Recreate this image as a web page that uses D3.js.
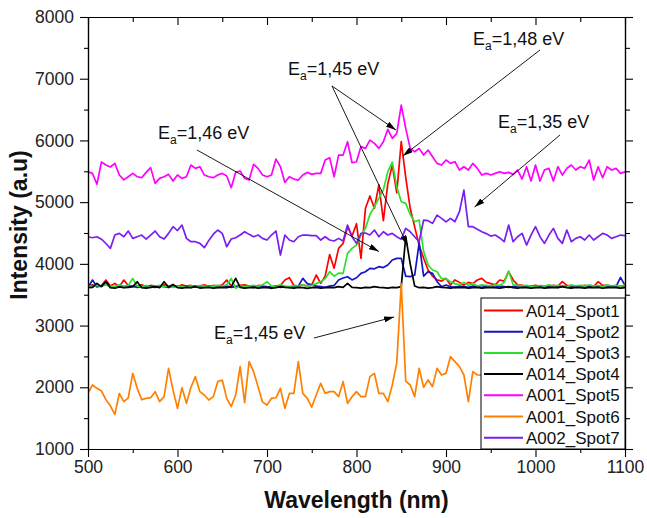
<!DOCTYPE html>
<html>
<head>
<meta charset="utf-8">
<script src="https://cdn.jsdelivr.net/npm/d3@7"></script>
<style>
  html, body { margin: 0; padding: 0; background: #fff; }
  svg { display: block; font-family: "Liberation Sans", Arial, sans-serif; }
</style>
</head>
<body>
<svg id="chart" width="647" height="518"></svg>
<script>
// Wavelength grid (nm), sampled every 5 nm
const wavelengths = d3.range(500, 1101, 5);

// Intensity (a.u.) per spot, one value per wavelength
const spot1 = [
  3640, 3660, 3630, 3650, 3738, 3640, 3684, 3630, 3738, 3650,
  3630, 3640, 3660, 3630, 3650, 3640, 3630, 3660, 3640, 3650,
  3630, 3660, 3640, 3650, 3630, 3640, 3660, 3630, 3650, 3640,
  3660, 3738, 3640, 3630, 3650, 3660, 3640, 3630, 3650, 3640,
  3630, 3603, 3640, 3650, 3738, 3776, 3650, 3640, 3660, 3640,
  3660, 3819, 3684, 3800, 4150, 3930, 4250, 4330, 4600, 4450,
  4650, 4090, 4900, 5100, 4900, 5280, 4700, 5300, 5600, 5150,
  5980, 5400, 4900, 4600, 4300, 4090, 3900, 3800, 3740, 3720,
  3765, 3657, 3740, 3700, 3657, 3700, 3680, 3738, 3765, 3700,
  3680, 3660, 3738, 3720, 3873, 3738, 3660, 3650, 3640, 3640,
  3650, 3640, 3630, 3640, 3650, 3640, 3711, 3650, 3640, 3630,
  3640, 3650, 3640, 3630, 3711, 3650, 3650, 3640, 3630, 3640,
  3640
];
const spot2 = [
  3620, 3738, 3630, 3640, 3711, 3620, 3630, 3640, 3620, 3630,
  3640, 3620, 3630, 3640, 3630, 3620, 3640, 3630, 3620, 3630,
  3640, 3620, 3630, 3620, 3640, 3630, 3620, 3640, 3630, 3620,
  3630, 3640, 3620, 3630, 3640, 3620, 3630, 3620, 3640, 3630,
  3620, 3630, 3640, 3620, 3630, 3620, 3630, 3640, 3765, 3680,
  3660, 3640, 3630, 3620, 3640, 3650, 3738, 3770, 3792, 3740,
  3775, 3846, 3873, 3927, 3920, 3954, 3940, 3981, 4062, 4089,
  4089, 3800, 3792, 3819, 4340, 3800, 3873, 3846, 3711, 3630,
  3657, 3630, 3620, 3640, 3630, 3620, 3640, 3630, 3620, 3640,
  3630, 3620, 3640, 3630, 3620, 3630, 3640, 3620, 3630, 3640,
  3620, 3630, 3640, 3620, 3630, 3620, 3640, 3630, 3620, 3630,
  3640, 3620, 3630, 3620, 3640, 3630, 3620, 3640, 3630, 3780,
  3650
];
const spot3 = [
  3640, 3630, 3650, 3640, 3660, 3640, 3630, 3660, 3640, 3650,
  3765, 3640, 3630, 3650, 3620, 3640, 3650, 3630, 3640, 3620,
  3640, 3630, 3620, 3640, 3630, 3650, 3640, 3630, 3640, 3650,
  3640, 3660, 3765, 3603, 3640, 3630, 3640, 3650, 3640, 3660,
  3711, 3640, 3630, 3660, 3640, 3630, 3650, 3640, 3660, 3640,
  3650, 3680, 3711, 3760, 3873, 3800, 3850, 3846, 4170, 4250,
  4305, 4467, 4575, 4800, 4926, 5061, 5200, 5493, 5650, 5250,
  5007, 4980, 4800, 4683, 4710, 4200, 3981, 3900, 3873, 3760,
  3760, 3711, 3680, 3660, 3700, 3650, 3680, 3640, 3660, 3650,
  3640, 3660, 3650, 3700, 3884, 3660, 3650, 3640, 3650, 3640,
  3630, 3650, 3640, 3660, 3640, 3650, 3640, 3630, 3660, 3640,
  3650, 3640, 3660, 3640, 3650, 3630, 3660, 3640, 3650, 3640,
  3650
];
const spot4 = [
  3614, 3620, 3684, 3630, 3711, 3614, 3608, 3625, 3614, 3620,
  3630, 3711, 3614, 3608, 3620, 3630, 3614, 3711, 3620, 3668,
  3614, 3608, 3620, 3614, 3630, 3608, 3614, 3620, 3608, 3614,
  3620, 3614, 3630, 3765, 3620, 3608, 3614, 3620, 3608, 3614,
  3620, 3608, 3614, 3630, 3620, 3614, 3608, 3620, 3614, 3603,
  3614, 3620, 3608, 3614, 3620, 3614, 3630, 3620, 3684, 3620,
  3614, 3608, 3620, 3614, 3630, 3620, 3614, 3608, 3620, 3614,
  3630, 4440, 4000, 3640, 3614, 3620, 3608, 3614, 3630, 3620,
  3614, 3608, 3620, 3614, 3620, 3608, 3614, 3620, 3608, 3614,
  3620, 3614, 3608, 3620, 3630, 3614, 3608, 3620, 3614, 3608,
  3614, 3620, 3608, 3614, 3620, 3614, 3630, 3614, 3608, 3620,
  3614, 3608, 3620, 3614, 3620, 3608, 3614, 3620, 3614, 3608,
  3614
];
const spot5 = [
  5490, 5466, 5290, 5650, 5601, 5570, 5628, 5439, 5360, 5412,
  5466, 5412, 5396, 5482, 5558, 5304, 5385, 5412, 5450, 5342,
  5439, 5385, 5412, 5601, 5547, 5574, 5439, 5412, 5396, 5439,
  5466, 5423, 5234, 5482, 5504, 5385, 5358, 5612, 5547, 5439,
  5412, 5439, 5698, 5574, 5320, 5412, 5374, 5358, 5439, 5482,
  5450, 5466, 5466, 5682, 5720, 5412, 5763, 5763, 5979, 5639,
  5655, 5900, 5871, 6006, 5952, 5871, 5979, 6180, 6033, 6114,
  6573, 6195, 5871, 5817, 5871, 5763, 5844, 5736, 5628, 5601,
  5682, 5628, 5655, 5520, 5574, 5520, 5628, 5547, 5439, 5466,
  5439, 5466, 5493, 5466, 5482, 5450, 5520, 5374, 5574, 5342,
  5601, 5342, 5520, 5547, 5342, 5574, 5439, 5547, 5601, 5520,
  5574, 5547, 5682, 5358, 5574, 5396, 5574, 5520, 5547, 5466,
  5493
];
// Spot 6 is recorded up to 940 nm
const spot6 = [
  1902, 2037, 1983, 1940, 1800, 1700, 1560, 1900, 1767, 1830,
  2226, 1983, 1800, 1821, 1832, 1929, 1767, 1848, 2307, 1956,
  1659, 1994, 1740, 2000, 2172, 1929, 1875, 1794, 1848, 2091,
  2118, 1821, 1686, 1875, 2334, 1750, 2415, 2253, 2010, 1760,
  1713, 1821, 1830, 1983, 1659, 1900, 1900, 2415, 1902, 1820,
  1680, 1875, 2064, 1902, 1929, 1929, 1848, 2091, 1740, 1848,
  1929, 1848, 1848, 2172, 2226, 1900, 1902, 1767, 2037, 2400,
  3680, 2100, 2037, 1848, 2307, 2000, 2118, 2010, 2307, 2199,
  2226, 2496, 2415, 2334, 2199, 1767, 2253, 2199, 2199
];
const spot7 = [
  4440, 4423, 4440, 4400, 4330, 4251, 4467, 4494, 4440, 4532,
  4413, 4440, 4467, 4402, 4467, 4532, 4440, 4402, 4494, 4602,
  4540, 4629, 4413, 4359, 4359, 4332, 4262, 4380, 4480, 4548,
  4494, 4278, 4402, 4424, 4467, 4521, 4478, 4440, 4467, 4413,
  4386, 4467, 4532, 4143, 4467, 4386, 4359, 4440, 4467, 4467,
  4456, 4456, 4386, 4440, 4386, 4370, 4413, 4370, 4629, 4440,
  4332, 4494, 4500, 4467, 4548, 4440, 4521, 4467, 4494, 4440,
  4400, 4575, 4521, 4440, 4359, 4710, 4700, 4656, 4790, 4737,
  4680, 4737, 4683, 4845, 5196, 4602, 4602, 4560, 4521, 4490,
  4450, 4467, 4420, 4359, 4629, 4359, 4440, 4494, 4305, 4467,
  4602, 4440, 4332, 4467, 4575, 4413, 4332, 4548, 4359, 4413,
  4440, 4386, 4467, 4386, 4440, 4494, 4467, 4413, 4440, 4467,
  4456
];

const seriesNames = ["A014_Spot1", "A014_Spot2", "A014_Spot3", "A014_Spot4",
                     "A001_Spot5", "A001_Spot6", "A002_Spot7"];
const seriesValues = [spot1, spot2, spot3, spot4, spot5, spot6, spot7];
const seriesColors = ["#ff0000", "#1414c8", "#2ee02e", "#000000",
                      "#ff00ff", "#ff8000", "#7a1ff0"];

const xMajorTicks = [500, 600, 700, 800, 900, 1000, 1100];
const xMinorTicks = [550, 650, 750, 850, 950, 1050];
const yMajorTicks = [1000, 2000, 3000, 4000, 5000, 6000, 7000, 8000];
const yMinorTicks = [1500, 2500, 3500, 4500, 5500, 6500, 7500];

// Activation-energy callouts: label anchor, arrow tail, arrow targets (data units)
const callouts = [
  { value: "1,46", tx: 158, ty: 139, tail: [197, 150], heads: [[825, 4200]] },
  { value: "1,45", tx: 288, ty: 75,  tail: [332, 86],  heads: [[844, 6170], [857, 4300]] },
  { value: "1,48", tx: 473, ty: 45,  tail: [540, 50],  heads: [[852, 5750]] },
  { value: "1,35", tx: 498, ty: 128, tail: [560, 135], heads: [[932, 4920]] },
  { value: "1,45", tx: 214, ty: 339, tail: [314, 338], heads: [[842, 3140]] }
];

const svg = d3.select("#chart");
const x = d3.scaleLinear().domain([500, 1100]).range([88, 625]);
const y = d3.scaleLinear().domain([1000, 8000]).range([449, 17]);

const [x0, x1] = x.range();
const [y0, y1] = y.range();
const plain = d3.format("d");

// Data lines
svg.append("defs").append("clipPath").attr("id", "plot-clip")
  .append("rect").attr("x", x0).attr("y", y1).attr("width", x1 - x0).attr("height", y0 - y1);

const line = d3.line()
  .x((d, i) => x(wavelengths[i]))
  .y(d => y(d));

const plot = svg.append("g").attr("clip-path", "url(#plot-clip)");
seriesValues.forEach((vals, k) => {
  plot.append("path")
    .datum(vals)
    .attr("d", line)
    .attr("fill", "none")
    .attr("stroke", seriesColors[k])
    .attr("stroke-width", 1.7)
    .attr("stroke-linejoin", "round");
});

// Axes with major and minor ticks on all four sides
function styleAxis(g) {
  g.selectAll(".domain").attr("stroke", "#000").attr("stroke-width", 1.2);
  g.selectAll(".tick line").attr("stroke", "#000").attr("stroke-width", 1.1);
  g.selectAll(".tick text").attr("fill", "#222").attr("font-size", 17.5)
    .attr("font-family", "Liberation Sans, Arial, sans-serif");
}

svg.append("g").attr("transform", `translate(0,${y0})`)
  .call(d3.axisBottom(x).tickValues(xMajorTicks).tickSize(8).tickSizeOuter(0).tickPadding(4).tickFormat(plain))
  .call(styleAxis);
svg.append("g").attr("transform", `translate(0,${y0})`)
  .call(d3.axisBottom(x).tickValues(xMinorTicks).tickSize(4).tickSizeOuter(0).tickFormat(""))
  .call(styleAxis);

svg.append("g").attr("transform", `translate(${x0},0)`)
  .call(d3.axisLeft(y).tickValues(yMajorTicks).tickSize(8).tickSizeOuter(0).tickPadding(6).tickFormat(plain))
  .call(styleAxis);
svg.append("g").attr("transform", `translate(${x0},0)`)
  .call(d3.axisLeft(y).tickValues(yMinorTicks).tickSize(4).tickSizeOuter(0).tickFormat(""))
  .call(styleAxis);

svg.append("g").attr("transform", `translate(0,${y1})`)
  .call(d3.axisBottom(x).tickValues(xMajorTicks).tickSize(8).tickSizeOuter(0).tickFormat(""))
  .call(styleAxis);
svg.append("g").attr("transform", `translate(0,${y1})`)
  .call(d3.axisBottom(x).tickValues(xMinorTicks).tickSize(5).tickSizeOuter(0).tickFormat(""))
  .call(styleAxis);

svg.append("g").attr("transform", `translate(${x1},0)`)
  .call(d3.axisRight(y).tickValues(yMajorTicks).tickSize(8).tickSizeOuter(0).tickFormat(""))
  .call(styleAxis);
svg.append("g").attr("transform", `translate(${x1},0)`)
  .call(d3.axisRight(y).tickValues(yMinorTicks).tickSize(5).tickSizeOuter(0).tickFormat(""))
  .call(styleAxis);

// Axis titles
svg.append("text")
  .attr("x", (x0 + x1) / 2).attr("y", 508)
  .attr("text-anchor", "middle")
  .attr("font-size", 23).attr("font-weight", "bold").attr("fill", "#111")
  .text("Wavelength (nm)");
svg.append("text")
  .attr("transform", `translate(27,${(y0 + y1) / 2 - 8}) rotate(-90)`)
  .attr("text-anchor", "middle")
  .attr("font-size", 23).attr("font-weight", "bold").attr("fill", "#111")
  .text("Intensity (a.u)");

// Callout arrows and labels
svg.select("defs").append("marker")
  .attr("id", "arrowhead")
  .attr("viewBox", "0 0 10 6")
  .attr("refX", 10).attr("refY", 3)
  .attr("markerWidth", 10).attr("markerHeight", 6)
  .attr("markerUnits", "userSpaceOnUse")
  .attr("orient", "auto")
  .append("path").attr("d", "M0,0 L10,3 L0,6 Z").attr("fill", "#000");

const notes = svg.append("g");
callouts.forEach(c => {
  c.heads.forEach(h => {
    notes.append("line")
      .attr("x1", c.tail[0]).attr("y1", c.tail[1])
      .attr("x2", x(h[0])).attr("y2", y(h[1]))
      .attr("stroke", "#000").attr("stroke-width", 0.9)
      .attr("marker-end", "url(#arrowhead)");
  });
  const t = notes.append("text")
    .attr("x", c.tx).attr("y", c.ty)
    .attr("font-size", 18).attr("fill", "#111");
  t.append("tspan").text("E");
  t.append("tspan").attr("font-size", 12).attr("dy", 5).text("a");
  t.append("tspan").attr("dy", -5).text(`=${c.value} eV`);
});

// Legend
const lg = svg.append("g");
const lgLeft = 481, lgTop = 298;
lg.append("rect")
  .attr("x", lgLeft).attr("y", lgTop)
  .attr("width", x1 - lgLeft).attr("height", y0 - lgTop)
  .attr("fill", "#fff").attr("stroke", "#000").attr("stroke-width", 1);
seriesNames.forEach((name, k) => {
  const cy = lgTop + 12.5 + k * 21.2;
  lg.append("line")
    .attr("x1", lgLeft + 3).attr("x2", lgLeft + 42)
    .attr("y1", cy).attr("y2", cy)
    .attr("stroke", seriesColors[k]).attr("stroke-width", 2);
  lg.append("text")
    .attr("x", lgLeft + 45).attr("y", cy)
    .attr("dy", "0.36em")
    .attr("font-size", 17).attr("fill", "#111")
    .text(name);
});
</script>
</body>
</html>
